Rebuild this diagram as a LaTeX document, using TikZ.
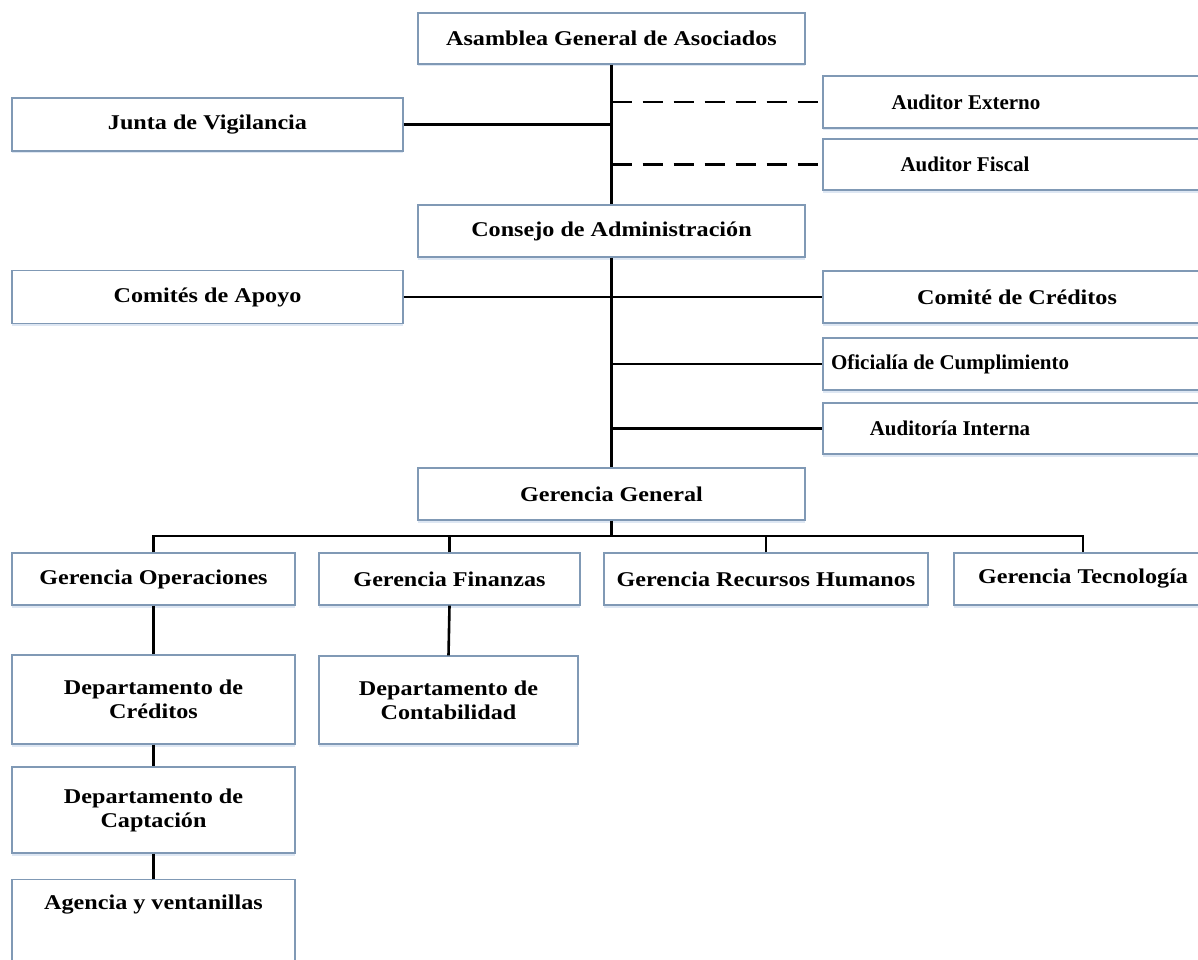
\documentclass[tikz,border=0pt]{standalone}
\usepackage{fontspec}
\setmainfont{Liberation Serif}[FakeStretch=1.15]
\newfontfamily\narrowserif{Liberation Serif}
\usetikzlibrary{positioning,shadows}
\definecolor{boxline}{RGB}{128,153,181}
\definecolor{boxshade}{RGB}{214,226,240}
\tikzset{
        unit/.style = {draw=boxline, line width=1.2pt, fill=white, inner sep=0pt,
                font=\bfseries\fontsize{21}{24}\selectfont, align=center,
                drop shadow={shadow xshift=0pt, shadow yshift=-2.5pt, fill=boxshade, opacity=0.8}},
        lbl/.style = {inner sep=0pt, font=\bfseries\fontsize{21}{24}\selectfont},
        narrowlbl/.style = {inner sep=0pt, font=\narrowserif\bfseries\fontsize{21}{24}\selectfont},
        link/.style = {line width=2.6pt},
        dashlink/.style = {link, dash pattern=on 20pt off 11pt}
}

\begin{document}
\begin{tikzpicture}[x=1pt, y=-1pt]

        \clip (0,0) rectangle (1198,960);
        \fill [white] (0,0) rectangle (1198,960);

        % Top level
        \node [unit, minimum width=387, minimum height=51] (asamblea) at (611.5,38.5) {Asamblea General de Asociados};
        \node [unit, minimum width=391, minimum height=53] (junta) at (207.5,124.5) {Junta de Vigilancia};
        \node [unit, minimum width=407, minimum height=52] (extbox) at (1026.5,102) {};
        \node [narrowlbl] (ext) at (966,102) {Auditor Externo};
        \node [unit, minimum width=407, minimum height=51] (fisbox) at (1026.5,164.5) {};
        \node [narrowlbl] (fis) at (965,164.5) {Auditor Fiscal};

        % Board and committees
        \node [unit, minimum width=387, minimum height=52] (consejo) at (611.5,231) {Consejo de Administración};
        \node [unit, minimum width=391, minimum height=53] (comites) at (207.5,297) {Comités de Apoyo};
        \node [unit, minimum width=407, minimum height=52] (credbox) at (1026.5,297) {};
        \node [lbl] (cred) at (1017,297) {Comité de Créditos};
        \node [unit, minimum width=407, minimum height=52] (oficbox) at (1026.5,364) {};
        \node [narrowlbl] (ofic) at (950,364) {Oficialía de Cumplimiento};
        \node [unit, minimum width=407, minimum height=51] (intbox) at (1026.5,428.5) {};
        \node [narrowlbl] (int) at (950,428.5) {Auditoría Interna};

        % Management
        \node [unit, minimum width=387, minimum height=52] (gerencia) at (611.5,494) {Gerencia General};
        \node [unit, minimum width=283, minimum height=52] (geop) at (153.5,579) {Gerencia Operaciones};
        \node [unit, minimum width=261, minimum height=52] (gefin) at (449.5,579) {Gerencia Finanzas};
        \node [unit, minimum width=324, minimum height=52] (gerh) at (766,579) {Gerencia Recursos Humanos};
        \node [unit, minimum width=258, minimum height=52] (getec) at (1083,579) {Gerencia Tecnología};

        % Departments
        \node [unit, minimum width=283, minimum height=89] (depcred) at (153.5,699.5) {Departamento de\\Créditos};
        \node [unit, minimum width=259, minimum height=88] (depcont) at (448.5,700) {Departamento de\\Contabilidad};
        \node [unit, minimum width=283, minimum height=86] (depcapt) at (153.5,810) {Departamento de\\Captación};
        \node [unit, minimum width=283, text height=30pt, text depth=81pt, anchor=north] (agencia) at (153.5,879) {Agencia y ventanillas};

        % Spine
        \draw [link] (asamblea.south) -- (consejo.north);
        \draw [link] (consejo.south) -- (gerencia.north);
        \coordinate (bus) at (0,536);
        \draw [link] (gerencia.south) -- (gerencia.south |- bus);

        % Side branches
        \draw [link] (junta.east) -- (junta.east -| asamblea.south);
        \draw [dashlink] (extbox.west -| asamblea.south) -- (extbox.west);
        \draw [dashlink] (fisbox.west -| asamblea.south) -- (fisbox.west);
        \draw [link] (comites.east) -- (credbox.west);
        \draw [link] (oficbox.west -| consejo.south) -- (oficbox.west);
        \draw [link] (intbox.west -| consejo.south) -- (intbox.west);

        % Bus to managers
        \draw [link] (geop.north) |- (bus -| getec.north) -- (getec.north);
        \draw [link] (gefin.north) -- (gefin.north |- bus);
        \draw [link] (gerh.north) -- (gerh.north |- bus);

        % Departments chain
        \draw [link] (geop.south) -- (depcred.north);
        \draw [link] (depcred.south) -- (depcapt.north);
        \draw [link] (depcapt.south) -- (agencia.north);
        \draw [link] (gefin.south) -- (depcont.north);

\end{tikzpicture}
\end{document}
